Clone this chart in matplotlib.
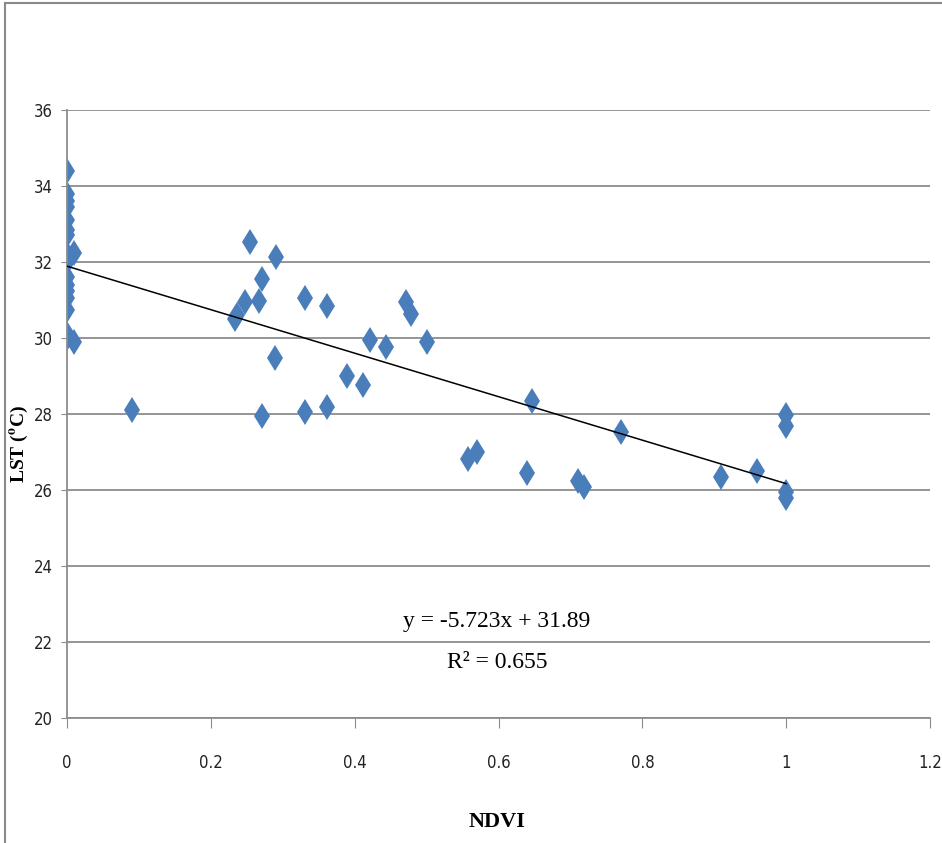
import matplotlib
matplotlib.use("Agg")
import matplotlib.pyplot as plt
from matplotlib.lines import Line2D
import numpy as np

# NDVI vs LST values
ndvi = [0, 0, 0, 0, 0, 0, 0, 0, 0, 0, 0, 0, 0, 0, 0, 0,
        0.01, 0.01, 0.09,
        0.233, 0.236, 0.247, 0.255, 0.267, 0.271, 0.271, 0.289, 0.291,
        0.331, 0.331, 0.361, 0.361, 0.390, 0.411, 0.421, 0.444,
        0.472, 0.479, 0.500, 0.558, 0.570, 0.640, 0.647, 0.710, 0.719,
        0.771, 0.909, 0.960, 1.0, 1.0, 1.0, 1.0]
lst = [34.4, 33.8, 33.6, 33.45, 33.1, 32.85, 32.7, 32.2, 32.0, 31.6, 31.4,
       31.25, 31.05, 30.75, 30.1, 30.0,
       32.25, 29.9, 28.1,
       30.5, 30.6, 30.96, 32.53, 30.98, 31.54, 27.95, 29.48, 32.12,
       31.04, 28.06, 30.84, 28.18, 29.0, 28.76, 29.95, 29.77,
       30.95, 30.62, 29.89, 26.82, 27.0, 26.44, 28.35, 26.25, 26.09,
       27.52, 26.35, 26.51, 27.97, 27.68, 25.96, 25.78]

slope, intercept, r2 = -5.723, 31.89, 0.655
x_ticks = [0, 0.2, 0.4, 0.6, 0.8, 1.0, 1.2]
x_tick_labels = ["0", "0.2", "0.4", "0.6", "0.8", "1", "1.2"]
y_ticks = [20, 22, 24, 26, 28, 30, 32, 34, 36]

plt.rcParams["mathtext.fontset"] = "stix"
grid_col = "#8c8c8c"

fig = plt.figure(figsize=(9.42, 8.43), dpi=100)
ax = fig.add_axes([67 / 942, 125 / 843, 863 / 942, 608 / 843])

ax.set_xlim(0, 1.2)
ax.set_ylim(20, 36)
ax.set_xticks(x_ticks)
ax.set_xticklabels(x_tick_labels)
ax.set_yticks(y_ticks)
ax.yaxis.grid(True, color=grid_col, linewidth=1.3)
ax.set_axisbelow(True)

for side in ["top", "right"]:
    ax.spines[side].set_visible(False)
for side in ["left", "bottom"]:
    ax.spines[side].set_color(grid_col)
    ax.spines[side].set_linewidth(1.3)

ax.tick_params(axis="x", length=7, color=grid_col, pad=19)
ax.tick_params(axis="y", length=4, color=grid_col, pad=6)
for lab in ax.get_xticklabels() + ax.get_yticklabels():
    lab.set_family(["DejaVu Sans"])
    lab.set_stretch("condensed")
    lab.set_fontsize(12)
    lab.set_color("#222222")

# points
ax.plot(ndvi, lst, linestyle="none", marker="d", markersize=13,
        color="#4a7ebb", markeredgewidth=0, zorder=2)

# trend line
tx = np.array([0, 1.0])
ax.plot(tx, slope * tx + intercept, color="black", linewidth=1.1, zorder=3)

ax.text(0.598, 22.53, "y = -5.723x + 31.89", ha="center", va="center",
        fontsize=17, family="Liberation Serif")
ax.text(0.598, 21.47, "R² = 0.655", ha="center", va="center",
        fontsize=17, family="Liberation Serif")

ax.set_xlabel("NDVI", fontsize=16, fontweight="bold", family="Liberation Serif")
ax.set_ylabel(r"LST ($^{\mathbf{o}}$C)", fontsize=14, fontweight="bold",
              family="Liberation Serif")
ax.xaxis.set_label_coords(0.498, -0.155)
ax.yaxis.set_label_coords(-0.043, 0.45)

# outer frame lines (top and left)
fig.add_artist(Line2D([5 / 942, 1], [1 - 3 / 843, 1 - 3 / 843],
                      transform=fig.transFigure, color="#8a8a8a", linewidth=1.5))
fig.add_artist(Line2D([5 / 942, 5 / 942], [0, 1 - 3 / 843],
                      transform=fig.transFigure, color="#8a8a8a", linewidth=1.5))

fig.savefig("out.png", dpi=100)
